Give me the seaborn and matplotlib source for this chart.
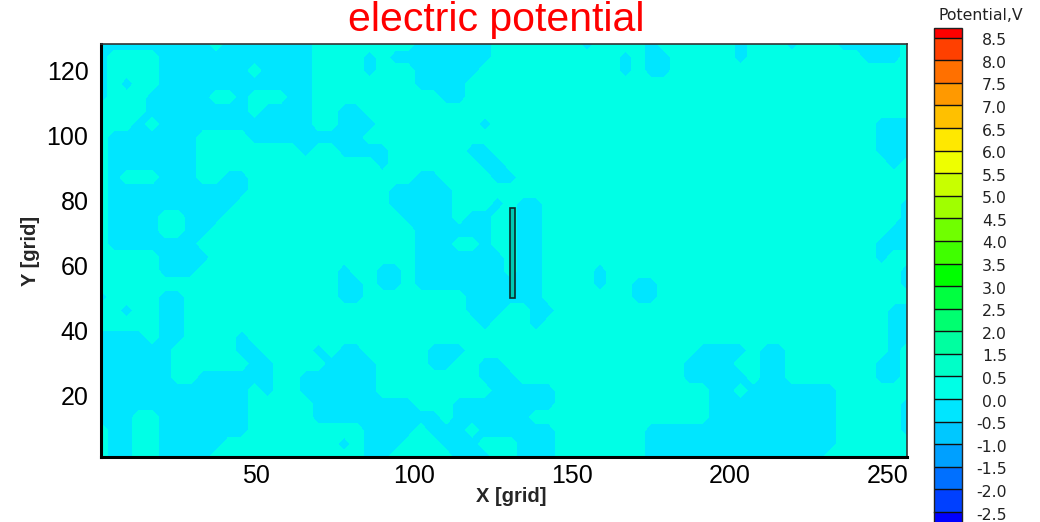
import numpy as np
import matplotlib
matplotlib.use("Agg")
import matplotlib.pyplot as plt
import seaborn as sns
from matplotlib.patches import Rectangle
from matplotlib.ticker import MultipleLocator
from matplotlib.colors import ListedColormap, BoundaryNorm

# ---------------- data ----------------
x_range = [1, 256]
y_range = [1, 128]

# coarse map of the potential field, top row = y 128, bottom row = y 1
# '#' : cell in the -0.5..0.0 V band, '.' : cell in the 0.0..0.5 V band
potential_rows = [
    "######## #.###### #....... .######. ......#. ...#.... ..#...#. ..#####.",
    "#....### ######## #....#.# #######. ........ .#.##... ..#..... ....###.",
    "#....### ####.### #....#.. .#####.. ........ .#.##... ........ ........",
    "#.#..### ######## #....... .####... ........ ........ ........ ........",
    "#...#### #..#...# #....... ...##... ........ ........ ........ ........",
    "....#### ####.### #..##... ........ ........ ........ ........ ........",
    "...#.### ######## #..###.. ......#. ........ ........ ........ .....###",
    ".####### ....#### #####... ........ ........ ........ ........ .....###",
    ".####### ........ #..####. .....##. ........ ........ ........ .....###",
    ".####### ........ ......#. ......## ........ ........ ........ ......#.",
    ".#...### ..##.... ........ .##....# #....... ........ ........ ........",
    ".####### ####.... .......# ####.... ........ ........ ........ ........",
    ".####### ###..... .......# ####...# .##..... ........ ........ .......#",
    ".####..# ##...... ........ ####.##. .##..... ........ ........ .......#",
    ".####..# #....... ........ .######. .##..... ........ ........ ......##",
    ".####### ........ ........ .###..#. .##..... ........ ........ .....###",
    ".....### #....... ........ .####### .##..... ........ ........ .....#..",
    ".....### ........ ...#..## .####### .##....# ........ ........ .......#",
    "........ ........ ...##.## .####### ###....# ..##.... ........ .......#",
    "#....##. ........ ...##... .....### ###..... ..##.... ........ ........",
    "..#..##. ........ ........ .....### ..##.... ........ ........ ......##",
    ".....##. ........ ........ ......#. ..#..... ........ ........ ......##",
    "####.##. ...#.... ........ ........ ........ ........ ........ ......##",
    "######.. ...##... .#.##... ..###... ........ .......# ###.##.. ......#.",
    "######.. ....##.. ..####.. ..##..## ........ ......## ##..##.. .....##.",
    "######.. ######.. ######.. ......## #....... ......## ###.##.. .....##.",
    "######## ####.#.. ######.. .......# ####.... ........ ##.##### ##......",
    "######## ####.... .####### #...#### ####.... ........ ######## ##.....#",
    "###..### ####.... .####### ###.#### ##...... ........ ######## ##.....#",
    ".##..### ####.... .....### #.###.## ####.... ...##### ######## ##.....#",
    ".##..### ##...... ...#.### ...###.. .###.... ...##### ######## ##......",
    ".##..### #....... .....##. ....###. .###.... ...##### ######## #.......",
]
band_value = {"#": -0.25, ".": 0.25}

levels = [-2.5, -2.0, -1.5, -1.0, -0.5, 0.0, 0.5, 1.5, 2.0, 2.5, 3.0,
          3.5, 4.0, 4.5, 5.0, 5.5, 6.0, 6.5, 7.0, 7.5, 8.0, 8.5]
level_labels = ["-2.5", "-2.0", "-1.5", "-1.0", "-0.5", "0.0", "0.5", "1.5",
                "2.0", "2.5", "3.0", "3.5", "4.0", "4.5", "5.0", "5.5",
                "6.0", "6.5", "7.0", "7.5", "8.0", "8.5"]
band_colors = ["#0040FF", "#0070FF", "#00A0FF", "#00C8FF", "#00E6FF",
               "#00FFE6", "#00FFC8", "#00FFA0", "#00FF70", "#00FF40",
               "#00FF00", "#40FF00", "#70FF00", "#A0FF00", "#C8FF00",
               "#EEFF00", "#FFE800", "#FFC000", "#FF9900", "#FF7000",
               "#FF4000"]
under_color = "#0000FF"
over_color = "#FF0000"

electrode_x = [130.5, 132.0]
electrode_y = [50.0, 77.5]

x_ticks = [50, 100, 150, 200, 250]
y_ticks = [20, 40, 60, 80, 100, 120]

title = "electric potential"
x_label = "X [grid]"
y_label = "Y [grid]"
cbar_title = "Potential,V"

# ---------------- build the field ----------------
rows = [r.replace(" ", "").ljust(64, ".")[:64] for r in potential_rows]
Z = np.array([[band_value[c] for c in r] for r in rows])
ny, nx = Z.shape
xs = np.linspace(x_range[0], x_range[1], nx)
ys = np.linspace(y_range[1], y_range[0], ny)
X, Y = np.meshgrid(xs, ys)

# ---------------- figure ----------------
sns.set_style("white")
plt.rcParams["font.family"] = ["Liberation Sans", "DejaVu Sans"]

W, H = 1040, 522
fig = plt.figure(figsize=(W / 100, H / 100), dpi=100)
ax = fig.add_axes([101 / W, 1 - 457 / H, (907 - 101) / W, (457 - 44) / H])

cmap = ListedColormap(band_colors)
cmap.set_under(under_color)
cmap.set_over(over_color)
norm = BoundaryNorm(levels, cmap.N)

cs = ax.contourf(X, Y, Z, levels=levels, cmap=cmap, norm=norm, extend="both")

ax.add_patch(Rectangle((electrode_x[0], electrode_y[0]),
                       electrode_x[1] - electrode_x[0],
                       electrode_y[1] - electrode_y[0],
                       facecolor="#00C8B4", edgecolor="#0A2A2A", linewidth=1.2,
                       zorder=5))

ax.set_xlim(x_range)
ax.set_ylim(y_range)
ax.set_xticks(x_ticks)
ax.set_yticks(y_ticks)
ax.xaxis.set_minor_locator(MultipleLocator(10))
ax.yaxis.set_minor_locator(MultipleLocator(5))
ax.tick_params(which="major", direction="in", length=8, width=2,
               left=True, bottom=True, top=False, right=False,
               labelsize=18, colors="black")
ax.tick_params(axis="x", which="major", pad=5)
ax.tick_params(axis="y", which="major", pad=9)
ax.tick_params(which="minor", direction="in", length=5, width=1.3,
               left=True, bottom=True, top=False, right=False, colors="#203030")
for side in ["left", "bottom"]:
    ax.spines[side].set_linewidth(2.2)
    ax.spines[side].set_color("black")
for side in ["top", "right"]:
    ax.spines[side].set_linewidth(1.2)
    ax.spines[side].set_color("#333333")

fig.text(496 / W, 1 - 31 / H, title, color="red", fontsize=29.5,
         ha="center", va="baseline", family=["Liberation Sans", "DejaVu Sans"])
fig.text(511 / W, 1 - 497 / H, x_label, fontsize=14.5, fontweight="bold",
         ha="center", va="center")
fig.text(30 / W, 1 - 251 / H, y_label, fontsize=14.5, fontweight="bold",
         ha="center", va="center", rotation=90)

# ---------------- colour legend ----------------
interior_top, interior_bottom = 37.7, 512.0
interior = interior_bottom - interior_top
ext_low, ext_high = 0.05, 0.0205
cax_top = interior_top - ext_high * interior
cax_bottom = interior_bottom + ext_low * interior
cax = fig.add_axes([934 / W, 1 - cax_bottom / H, 28 / W, (cax_bottom - cax_top) / H])
cb = fig.colorbar(cs, cax=cax, ticks=levels, drawedges=True,
                  extendrect=True, extendfrac=(ext_low, ext_high))
cb.outline.set_edgecolor("#222222")
cb.outline.set_linewidth(1.0)
cb.dividers.set_color("#111111")
cb.dividers.set_linewidth(1.0)
cax.tick_params(length=0, labelright=False, labelleft=False)
for lev, lab in zip(levels, level_labels):
    cax.annotate(lab, xy=(1.0, lev), xycoords=("axes fraction", "data"),
                 xytext=(45, -3), textcoords="offset pixels",
                 ha="right", va="center", fontsize=11.3, color="#222222",
                 family="DejaVu Sans", annotation_clip=False)
fig.text(981 / W, 1 - 15 / H, cbar_title, fontsize=11.3, color="#222222",
         ha="center", va="center", family="DejaVu Sans")

fig.savefig("out.png", dpi=100)
